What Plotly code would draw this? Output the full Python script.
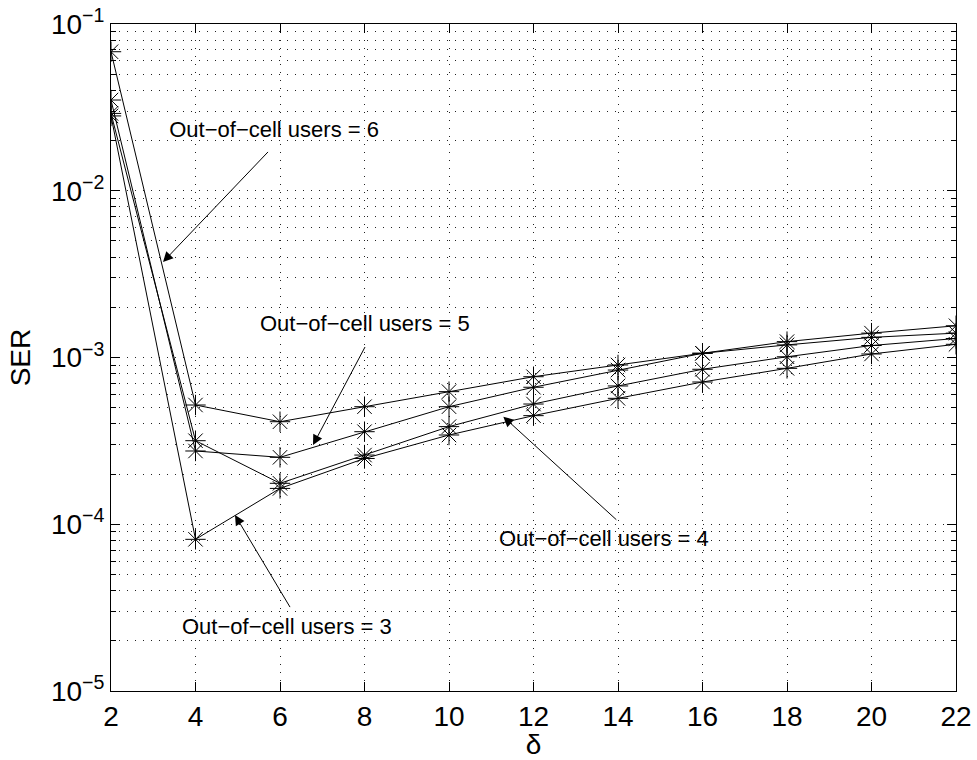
import plotly.graph_objects as go

delta = [2, 4, 6, 8, 10, 12, 14, 16, 18, 20, 22]
ser_users6 = [0.0682, 5.19e-4, 4.12e-4, 5.07e-4, 6.24e-4, 7.67e-4, 9.02e-4, 1.06e-3, 1.19e-3, 1.32e-3, 1.40e-3]
ser_users5 = [0.0350, 2.75e-4, 2.52e-4, 3.59e-4, 5.07e-4, 6.63e-4, 8.41e-4, 1.06e-3, 1.245e-3, 1.40e-3, 1.55e-3]
ser_users4 = [0.0291, 3.17e-4, 1.76e-4, 2.60e-4, 3.85e-4, 5.26e-4, 6.75e-4, 8.50e-4, 1.01e-3, 1.18e-3, 1.30e-3]
ser_users3 = [0.0281, 8.12e-5, 1.64e-4, 2.48e-4, 3.43e-4, 4.48e-4, 5.69e-4, 7.13e-4, 8.61e-4, 1.05e-3, 1.20e-3]

y_major = [1e-5, 1e-4, 1e-3, 1e-2, 1e-1]
y_major_text = ["10<sup>\u22125</sup>", "10<sup>\u22124</sup>", "10<sup>\u22123</sup>",
                "10<sup>\u22122</sup>", "10<sup>\u22121</sup>"]
y_minor = [m * 10.0 ** e for e in range(-5, -1) for m in range(2, 10)]
x_ticks = [2, 4, 6, 8, 10, 12, 14, 16, 18, 20, 22]

FONT = "Liberation Sans, Arial, Helvetica, sans-serif"

fig = go.Figure()
for ys in [ser_users6, ser_users5, ser_users4, ser_users3]:
    fig.add_trace(go.Scatter(
        x=delta, y=ys, mode="lines+markers",
        line=dict(color="black", width=1),
        marker=dict(symbol="asterisk-open", size=17, color="black",
                    line=dict(color="black", width=1)),
        showlegend=False, hoverinfo="skip"))

NB = "\u00a0"
# (label, tip x, tip log10 y, tail dx px, tail dy px, yanchor, borderpad)
notes = [
    (NB * 2 + "Out\u2212of\u2212cell users = 6", 3.231, -2.427, 105, -110, "bottom", 9),
    ("Out\u2212of\u2212cell users = 5", 6.781, -3.525, 52, -98, "bottom", 10),
    ("Out\u2212of\u2212cell users = 4" + NB * 4, 11.286, -3.355, 113, 103, "top", 5),
    ("Out\u2212of\u2212cell users = 3" + NB, 4.935, -3.945, 55, 92, "top", 6),
]
for text, tx, ty, dx, dy, yanc, pad in notes:
    fig.add_annotation(x=tx, y=ty, xref="x", yref="y", text=text, showarrow=True,
                       ax=dx, ay=dy, arrowhead=2, arrowsize=2, arrowwidth=1,
                       arrowcolor="black", standoff=0, startstandoff=0,
                       xanchor="center", yanchor=yanc, borderpad=pad,
                       font=dict(family=FONT, size=22, color="black"))

grid = dict(showgrid=True, gridcolor="#222222", gridwidth=1, griddash="1px,7px")

fig.update_xaxes(
    range=[2, 22], tickmode="array", tickvals=x_ticks, automargin=False,
    ticks="inside", ticklen=9, tickcolor="black", tickwidth=1,
    showline=True, linecolor="black", linewidth=1, mirror="ticks",
    zeroline=False, tickfont=dict(family=FONT, size=28, color="black"),
    title=dict(text="\u03b4", font=dict(family=FONT, size=28, color="black"), standoff=0),
    **grid)
fig.update_yaxes(
    type="log", range=[-5, -1], tickmode="array", tickvals=y_major, ticktext=y_major_text,
    automargin=False,
    ticks="inside", ticklen=9, tickcolor="black", tickwidth=1,
    showline=True, linecolor="black", linewidth=1, mirror="ticks",
    zeroline=False, tickfont=dict(family=FONT, size=28, color="black"),
    title=dict(text="SER", font=dict(family=FONT, size=28, color="black"), standoff=12),
    minor=dict(tickmode="array", tickvals=y_minor, ticks="inside", ticklen=5,
               tickcolor="black", showgrid=True, gridcolor="#222222",
               griddash="1px,7px", gridwidth=1),
    **grid)

fig.update_layout(
    width=977, height=760, margin=dict(l=111, r=21, t=24, b=69),
    paper_bgcolor="white", plot_bgcolor="white",
    font=dict(family=FONT, color="black"))

fig.write_html("out.html")
